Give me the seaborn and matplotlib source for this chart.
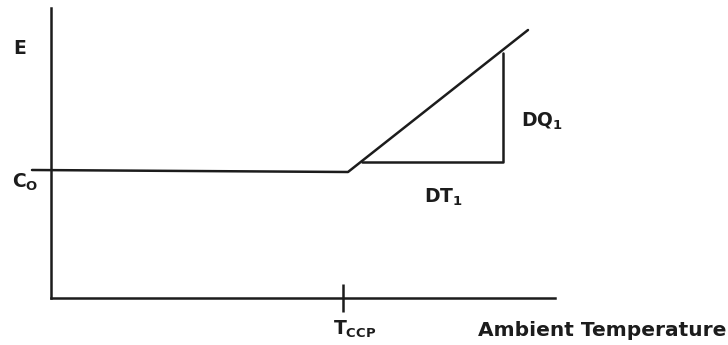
import matplotlib
matplotlib.use("Agg")
import matplotlib.pyplot as plt
import seaborn as sns
import pandas as pd

sns.set_theme(style="white")
plt.rcParams['font.family'] = ['DejaVu Sans']
plt.rcParams['mathtext.fontset'] = 'dejavusans'

# Schematic data (arbitrary units; axis origin at 0,0)
x_axis_end = 504
y_axis_end = 290
t_ccp = 292

flat_x = [-19, 297]
flat_y = [128, 126]
ramp_x = [297, 477]
ramp_y = [126, 268]
tri_x = [311, 452, 452]
tri_y = [136, 136, 245]

labels = {
    "E": (-31, 244),
    r"$\mathbf{C_O}$": (-39, 110),
    r"$\mathbf{DQ_1}$": (470, 171),
    r"$\mathbf{DT_1}$": (373, 95),
    r"$\mathbf{T_{CCP}}$": (282, -37),
    "Ambient Temperature": (427, -38),
}

col = "#1c1c1c"
fig = plt.figure(figsize=(7.28, 3.45), dpi=100)
ax = fig.add_axes([0, 0, 1, 1])
ax.set_xlim(-51, 677)
ax.set_ylim(-47, 298)

curve = pd.DataFrame({"x": flat_x + ramp_x, "y": flat_y + ramp_y})
sns.lineplot(data=curve, x="x", y="y", estimator=None, sort=False,
             color=col, lw=1.8, ax=ax)
tri = pd.DataFrame({"x": tri_x, "y": tri_y})
sns.lineplot(data=tri, x="x", y="y", estimator=None, sort=False,
             color=col, lw=1.8, ax=ax)

for s in ["top", "right"]:
    ax.spines[s].set_visible(False)
ax.spines["left"].set_position(("data", 0))
ax.spines["bottom"].set_position(("data", 0))
ax.spines["left"].set_bounds(0, y_axis_end)
ax.spines["bottom"].set_bounds(0, x_axis_end)
for s in ["left", "bottom"]:
    ax.spines[s].set_color(col)
    ax.spines[s].set_linewidth(1.8)

ax.set_xticks([t_ccp])
ax.set_xticklabels([])
ax.set_yticks([])
ax.tick_params(axis="x", direction="inout", length=20, width=1.8, color=col, bottom=True)
ax.set_xlabel("")
ax.set_ylabel("")

sizes = {"Ambient Temperature": 14.5}
for txt, (x, y) in labels.items():
    ax.text(x, y, txt, fontsize=sizes.get(txt, 13.5), fontweight="bold", color=col,
            ha="left" if txt != "E" else "center", va="baseline")

fig.savefig("out.png", dpi=100, facecolor="white")
